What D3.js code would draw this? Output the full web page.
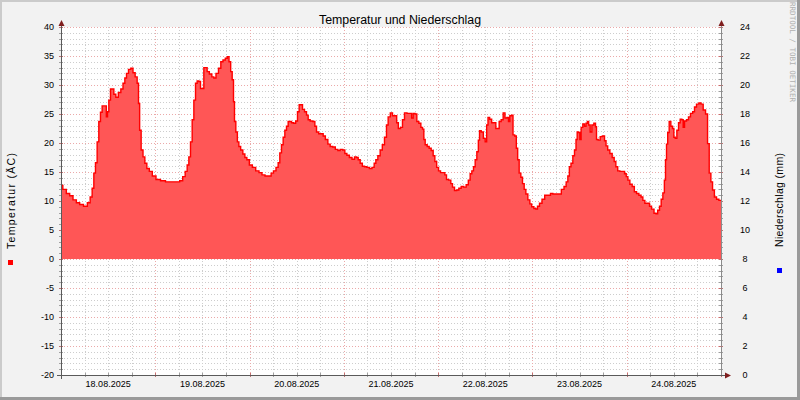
<!DOCTYPE html>
<html><head><meta charset="utf-8">
<script src="https://cdn.jsdelivr.net/npm/d3@7"></script>
<style>body{margin:0;background:#f2f2f2}svg{display:block}</style>
</head><body><svg id="c" width="800" height="400"></svg>
<script>
const titleText = "Temperatur und Niederschlag";
const leftLabel = "Temperatur (ÄC)";
const rightLabel = "Niederschlag (mm)";
const watermark = "RRDTOOL / TOBI OETIKER";
const dayLabels = ["18.08.2025","19.08.2025","20.08.2025","21.08.2025","22.08.2025","23.08.2025","24.08.2025"];
const leftTicks = [-20,-15,-10,-5,0,5,10,15,20,25,30,35,40];
const rightTicks = [0,2,4,6,8,10,12,14,16,18,20,22,24];
// [hours since 18.08.2025 00:00, temperature °C]
const temperature = [
[0,12.7],[0.93,12.0],[1.78,11.3],[2.63,10.9],[3.48,10.2],[4.33,9.7],[5.17,9.4],[6.28,9.1],[7.13,9.7],[7.72,10.7],
[8.15,12.2],[8.57,14.8],[8.99,16.6],[9.42,20.2],[9.84,23.7],[10.27,25.3],[10.69,26.4],[11.37,26.4],[11.71,24.5],[11.96,25.4],
[12.39,27.4],[12.81,29.3],[13.24,29.3],[13.66,28.4],[14.25,27.9],[14.93,28.7],[15.53,29.3],[16.04,30.3],[16.46,31.2],[16.88,32.0],
[17.48,32.7],[18.07,32.9],[18.58,32.1],[19.17,31.4],[19.6,30.3],[19.85,26.8],[20.19,22.2],[20.62,18.8],[21.13,17.6],[21.55,16.5],
[22.15,15.6],[22.82,15.1],[23.67,14.3],[24.69,13.7],[25.96,13.5],[27.24,13.3],[28.51,13.3],[29.78,13.3],[30.63,13.5],[31.31,14.2],
[31.9,15.1],[32.33,16.2],[32.75,17.6],[33.18,20.2],[33.6,24.0],[34.03,27.4],[34.45,30.3],[34.87,30.7],[35.3,30.6],[35.72,29.4],
[36.15,29.4],[36.57,33.0],[36.99,33.0],[37.42,32.3],[38.1,31.9],[38.69,31.4],[39.11,31.2],[39.79,32.0],[40.39,32.9],[40.98,34.0],
[41.49,34.3],[42.17,34.6],[42.51,34.9],[43.02,34.0],[43.36,32.3],[43.78,30.9],[44.04,27.1],[44.29,23.7],[44.72,21.9],[45.06,20.2],
[45.48,19.4],[45.99,18.8],[46.58,18.1],[47.01,17.5],[47.6,17.1],[48.28,16.2],[49.13,15.8],[49.98,15.2],[50.82,14.9],[51.5,14.5],
[52.35,14.3],[53.2,14.3],[53.79,14.8],[54.39,15.2],[55.07,15.8],[55.49,16.6],[55.92,18.3],[56.34,19.7],[56.77,21.0],[57.19,22.2],
[57.61,22.9],[58.04,23.7],[58.46,23.7],[58.89,23.5],[59.48,23.4],[59.99,23.8],[60.41,25.4],[60.84,26.6],[61.26,26.6],[61.69,25.8],
[62.28,25.4],[62.7,24.8],[63.13,24.0],[63.72,23.8],[64.4,23.7],[64.83,22.9],[65.25,21.9],[65.93,21.6],[66.52,21.6],[66.95,21.2],
[67.63,20.6],[68.22,19.8],[68.82,19.4],[69.49,19.3],[70.17,18.9],[70.76,18.7],[71.36,18.9],[72.04,18.8],[72.46,18.2],[73.06,17.9],
[73.74,17.5],[74.41,17.2],[75.01,17.6],[75.43,17.5],[75.86,17.1],[76.45,16.5],[76.96,16.0],[77.55,15.9],[78.15,15.8],[78.83,15.6],
[79.5,15.8],[79.93,16.5],[80.35,17.1],[80.95,17.8],[81.54,18.8],[82.05,19.7],[82.64,21.0],[83.07,23.1],[83.49,24.5],
[84.17,25.2],[84.6,24.7],[85.27,24.7],[85.61,23.5],[86.12,22.5],[86.72,22.7],[87.14,24.0],[87.73,25.2],[88.41,25.1],[89.09,25.1],
[89.43,24.3],[89.86,25.1],[90.37,25.0],[90.79,23.7],[91.38,23.4],[91.81,22.7],[92.23,22.4],[92.49,20.6],[92.91,19.7],[93.5,19.4],
[93.93,19.1],[94.52,18.7],[94.95,17.8],[95.37,16.8],[95.88,15.8],[96.31,15.2],[96.9,14.9],[97.49,14.9],[97.92,14.5],[98.34,13.7],
[99.02,13.6],[99.44,13.0],[99.87,12.4],[100.46,11.8],[100.97,11.9],[101.56,12.2],[102.16,12.5],[102.84,12.4],[103.43,12.8],[103.94,13.6],
[104.37,14.7],[104.79,15.2],[105.21,15.9],[105.64,17.1],[106.06,18.5],[106.4,20.5],[106.66,22.1],[107.25,21.9],[107.76,20.8],[108.18,20.2],
[108.52,23.1],[108.86,24.4],[109.37,24.1],[109.88,23.5],[110.47,23.5],[110.9,22.5],[111.32,22.5],[111.75,23.7],[112.34,24.0],[112.76,25.2],
[113.27,24.3],[113.78,24.4],[114.04,23.7],[114.46,24.7],[114.89,24.8],[115.23,21.4],[115.74,21.2],[116.07,19.1],[116.41,17.1],[116.84,14.8],
[117.26,14.1],[117.69,13.0],[118.11,12.0],[118.53,11.2],[119.13,10.2],[119.55,9.5],[120.06,9.0],[120.66,8.7],[121.08,8.6],[121.5,9.1],
[122.1,9.6],[122.78,10.3],[123.46,11.0],[124.3,11.0],[124.9,11.3],[125.49,11.2],[126.17,11.2],
[127.02,11.2],[127.7,12.0],[128.38,12.5],[128.8,13.3],[129.23,14.3],[129.57,15.9],[130.07,16.5],[130.5,17.8],[130.92,18.8],[131.26,20.6],
[131.52,21.9],[131.94,21.8],[132.19,20.6],[132.62,22.7],[133.04,23.3],[133.47,22.9],[133.81,23.4],[134.15,23.7],[134.49,23.1],[134.91,21.9],
[135.33,23.1],[135.93,23.4],[136.18,22.8],[136.44,20.6],[137.03,20.5],[137.46,21.1],[138.14,21.2],[138.56,20.4],[138.9,19.5],[139.41,18.8],
[140.0,18.2],[140.6,17.5],[141.02,16.8],[141.45,15.9],[141.96,15.2],[142.55,15.1],[143.23,15.1],[143.66,14.7],[144.08,14.2],[144.5,13.6],
[145.1,12.9],[145.69,12.5],[146.2,11.6],[146.8,11.3],[147.39,11.0],[147.9,10.7],[148.32,10.1],[148.92,9.6],[149.6,9.6],[150.02,9.1],
[150.62,8.6],[151.29,7.9],[151.63,7.8],[152.14,8.4],[152.56,9.1],[152.99,10.3],[153.41,11.4],[153.75,13.6],[154.0,17.1],[154.26,19.8],
[154.6,21.8],[155.02,23.7],[155.45,22.9],[155.87,22.5],[156.13,21.0],[156.55,20.8],[156.98,22.2],[157.4,23.5],[157.82,24.1],[158.25,24.0],
[158.5,22.7],[158.93,23.8],[159.52,24.0],[159.94,24.5],[160.54,25.1],[161.05,25.4],[161.47,26.2],[162.06,26.7],[162.66,26.9],[163.17,26.7],
[163.76,25.7],[164.36,25.0],[164.78,19.9],[165.21,14.8],[165.63,13.3],[166.06,11.9],[166.57,10.7],[167.16,10.3],[167.75,10.1],[168,10.1]
];

const svg = d3.select("#c");
const W = 800, H = 400;
const X0 = 61, X1 = 721, Y0 = 375, Y1 = 27;
const start = new Date(2025, 7, 18, 0, 0, 0);
const end = new Date(2025, 7, 25, 0, 0, 0);
const x = d3.scaleTime().domain([start, end]).range([X0, X1]);
const yL = d3.scaleLinear().domain([-20, 40]).range([Y0, Y1]);
const yR = d3.scaleLinear().domain([0, 24]).range([Y0, Y1]);
const data = temperature.map(d => ({t: d3.timeMinute.offset(start, Math.round(d[0]*60)), v: d[1]}));

// background + shading
svg.append("rect").attr("width", W).attr("height", H).attr("fill", "#f2f2f2");
svg.append("path").attr("d", `M0,1H${W}M1,0V${H}`).attr("stroke", "#cbcbcb").attr("stroke-width", 2);
svg.append("path").attr("d", `M0,${H-1.5}H${W}M${W-1.5},0V${H}`).attr("stroke", "#9a9a9a").attr("stroke-width", 3);
svg.append("rect").attr("x", X0).attr("y", Y1).attr("width", X1 - X0).attr("height", Y0 - Y1).attr("fill", "#ffffff");

const minorC = "#cdcdcd", majorC = "#eba9a9";
const g = svg.append("g");
// horizontal grid
d3.range(-20, 41, 1).forEach(v => {
  const major = v % 5 === 0;
  const yy = Math.round(yL(v)) + 0.5;
  g.append("line").attr("x1", X0).attr("x2", X1).attr("y1", yy).attr("y2", yy)
    .attr("stroke", major ? majorC : minorC).attr("stroke-dasharray", "1,2");
  g.append("line").attr("x1", X0 - 2).attr("x2", X0 + 2).attr("y1", yy).attr("y2", yy)
    .attr("stroke", major ? "#c07070" : "#a0a0a0");
  g.append("line").attr("x1", X1 - 2).attr("x2", X1 + 2).attr("y1", yy).attr("y2", yy)
    .attr("stroke", major ? "#c07070" : "#a0a0a0");
});
// vertical grid
d3.timeHour.every(6).range(start, d3.timeMinute.offset(end, 1)).forEach(t => {
  const major = t.getHours() === 0;
  const xx = Math.round(x(t)) + 0.5;
  g.append("line").attr("x1", xx).attr("x2", xx).attr("y1", Y1).attr("y2", Y0)
    .attr("stroke", major ? majorC : minorC).attr("stroke-dasharray", "1,2");
  g.append("line").attr("x1", xx).attr("x2", xx).attr("y1", Y0 - 2).attr("y2", Y0 + 2)
    .attr("stroke", major ? "#c07070" : "#a0a0a0");
});

// area + line
const area = d3.area().x(d => x(d.t)).y0(yL(0)).y1(d => yL(d.v)).curve(d3.curveStep);
const line = d3.line().x(d => x(d.t)).y(d => yL(d.v)).curve(d3.curveStep);
svg.append("path").datum(data).attr("d", area).attr("fill", "#ff5656");
svg.append("path").datum(data).attr("d", line).attr("fill", "none").attr("stroke", "#ff0000").attr("stroke-width", 1.4);

// axes
const axC = "#5a5a5a", arC = "#7f1d1d";
svg.append("line").attr("x1", X0 + 0.5).attr("x2", X0 + 0.5).attr("y1", Y0 + 4).attr("y2", Y1 - 4).attr("stroke", axC);
svg.append("line").attr("x1", X1 + 0.5).attr("x2", X1 + 0.5).attr("y1", Y0).attr("y2", Y1 - 4).attr("stroke", "#8a8a8a");
svg.append("line").attr("x1", X0 - 4).attr("x2", X1 + 5).attr("y1", Y0 + 0.5).attr("y2", Y0 + 0.5).attr("stroke", axC);
svg.append("path").attr("d", `M${X0+0.5},${Y1-7}L${X0-2.5},${Y1-1}L${X0+3.5},${Y1-1}Z`).attr("fill", arC);
svg.append("path").attr("d", `M${X1+0.5},${Y1-7}L${X1-2.5},${Y1-1}L${X1+3.5},${Y1-1}Z`).attr("fill", arC);
svg.append("path").attr("d", `M${X1+10},${Y0+0.5}L${X1+4},${Y0-2.5}L${X1+4},${Y0+3.5}Z`).attr("fill", arC);

const font = "'Liberation Sans', 'DejaVu Sans', sans-serif";
// left tick labels
svg.append("g").selectAll("text").data(leftTicks).join("text")
  .attr("x", 54).attr("y", d => yL(d)).attr("dy", "0.35em").attr("text-anchor", "end")
  .attr("font-family", font).attr("font-size", 9).attr("fill", "#000").text(d => d);
// right tick labels
svg.append("g").selectAll("text").data(rightTicks).join("text")
  .attr("x", 745).attr("y", d => yR(d)).attr("dy", "0.35em").attr("text-anchor", "middle")
  .attr("font-family", font).attr("font-size", 9).attr("fill", "#000").text(d => d);
// day labels at noon
svg.append("g").selectAll("text").data(dayLabels).join("text")
  .attr("x", (d, i) => x(d3.timeHour.offset(d3.timeDay.offset(start, i), 12)))
  .attr("y", 387).attr("text-anchor", "middle")
  .attr("font-family", font).attr("font-size", 9).attr("fill", "#000").text(d => d);

// title
svg.append("text").attr("x", 400).attr("y", 24).attr("text-anchor", "middle")
  .attr("font-family", font).attr("font-size", 12).attr("fill", "#000")
  .attr("textLength", 162).attr("lengthAdjust", "spacingAndGlyphs").text(titleText);

// side labels
svg.append("text").attr("transform", "translate(11,201) rotate(-90)").attr("text-anchor", "middle")
  .attr("dy", "0.35em").attr("font-family", font).attr("font-size", 10.5).attr("fill", "#000")
  .attr("textLength", 96).attr("lengthAdjust", "spacing").text(leftLabel);
svg.append("rect").attr("x", 8).attr("y", 260).attr("width", 5).attr("height", 5).attr("fill", "#ff0000");
svg.append("text").attr("transform", "translate(779,200) rotate(-90)").attr("text-anchor", "middle")
  .attr("dy", "0.35em").attr("font-family", font).attr("font-size", 10.5).attr("fill", "#000")
  .attr("textLength", 94).attr("lengthAdjust", "spacing").text(rightLabel);
svg.append("rect").attr("x", 777).attr("y", 268).attr("width", 5).attr("height", 5).attr("fill", "#0000ff");

// watermark
svg.append("text").attr("transform", "translate(789.5,2) rotate(90)").attr("text-anchor", "start")
  .attr("font-family", "'DejaVu Sans Mono', monospace").attr("font-size", 7.5).attr("fill", "#b0b0b0")
  .attr("textLength", 100).attr("lengthAdjust", "spacingAndGlyphs").text(watermark);
</script></body></html>
